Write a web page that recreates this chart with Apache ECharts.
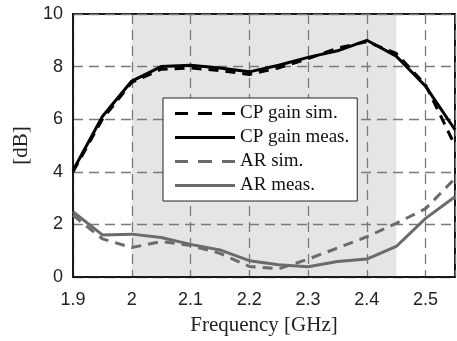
<!DOCTYPE html>
<html>
<head>
<meta charset="utf-8">
<script src="https://cdn.jsdelivr.net/npm/echarts@6/dist/echarts.min.js"></script>
<style>
  html, body { margin: 0; padding: 0; background: #fff; }
  #chart { width: 457px; height: 341px; }
</style>
</head>
<body>
<div id="chart"></div>
<script>
// Frequency samples (GHz)
const freq = [1.9, 1.95, 2.0, 2.05, 2.1, 2.15, 2.2, 2.25, 2.3, 2.35, 2.4, 2.45, 2.5, 2.55];
// CP gain (dB)
const cpGainSim  = [4.0, 6.0, 7.4, 7.9, 7.95, 7.85, 7.7, 7.95, 8.3, 8.7, 8.95, 8.5, 7.3, 5.0];
const cpGainMeas = [4.05, 6.1, 7.45, 8.0, 8.05, 7.95, 7.8, 8.05, 8.35, 8.6, 9.0, 8.4, 7.25, 5.6];
// Axial ratio (dB)
const arSim  = [2.35, 1.45, 1.12, 1.35, 1.2, 0.9, 0.4, 0.31, 0.68, 1.1, 1.53, 2.04, 2.6, 3.75];
const arMeas = [2.48, 1.6, 1.63, 1.5, 1.24, 1.03, 0.62, 0.47, 0.39, 0.59, 0.68, 1.16, 2.23, 3.05];
// Operating band shown as a shaded span
const band = [2.0, 2.45];
const seriesNames = ['CP gain sim.', 'CP gain meas.', 'AR sim.', 'AR meas.'];

const pairs = (ys) => freq.map((f, i) => [f, ys[i]]);
const GREY = '#6b6b6b';
const SANS = '"Liberation Sans", Arial, sans-serif';
const SERIF = '"Liberation Serif", "Times New Roman", serif';

// legend keys: a dashed or a solid stroke
const DASHED_KEY = 'path://M0,0h13v3h-13z M23,0h14v3h-14z M47,0h13v3h-13z';
const SOLID_KEY = 'path://M0,0h60v3h-60z';

const lineSeries = (name, ys, color, type) => ({
  name, type: 'line', data: pairs(ys), symbol: 'none', showSymbol: false, z: 3,
  lineStyle: { color, width: 3, type },
  itemStyle: { color }
});

const gridLine = { show: true, lineStyle: { color: '#7a7a7a', width: 1.3, type: [10, 6] } };

const chart = echarts.init(document.getElementById('chart'), null, { renderer: 'canvas' });
chart.setOption({
  animation: false,
  backgroundColor: '#fff',
  grid: {
    left: 73, right: 2, top: 14, bottom: 62, z: 2,
    show: true, borderColor: '#1a1a1a', borderWidth: 2, backgroundColor: 'transparent'
  },
  xAxis: {
    type: 'value', min: 1.9, max: 2.55, interval: 0.1, z: 2,
    name: 'Frequency [GHz]', nameLocation: 'middle', nameGap: 38,
    nameTextStyle: { fontFamily: SERIF, fontSize: 21, color: '#222' },
    axisLine: { show: true, lineStyle: { color: '#1a1a1a', width: 2 } },
    axisTick: { show: false },
    axisLabel: {
      fontFamily: SANS, fontSize: 18, color: '#222', margin: 14,
      showMaxLabel: false,
      formatter: (v) => (v > 2.52 ? '' : String(Math.round(v * 10) / 10))
    },
    splitLine: gridLine
  },
  yAxis: {
    type: 'value', min: 0, max: 10, interval: 2, z: 2,
    name: '[dB]', nameLocation: 'middle', nameGap: 38,
    nameTextStyle: { fontFamily: SERIF, fontSize: 21, color: '#222' },
    axisLine: { show: true, lineStyle: { color: '#1a1a1a', width: 2 } },
    axisTick: { show: false },
    axisLabel: { fontFamily: SANS, fontSize: 18, color: '#222', margin: 10 },
    splitLine: gridLine
  },
  legend: {
    orient: 'vertical', left: 163, top: 98,
    data: [
      { name: seriesNames[0], icon: DASHED_KEY, itemStyle: { color: '#000' } },
      { name: seriesNames[1], icon: SOLID_KEY, itemStyle: { color: '#000' } },
      { name: seriesNames[2], icon: DASHED_KEY, itemStyle: { color: GREY } },
      { name: seriesNames[3], icon: SOLID_KEY, itemStyle: { color: GREY } }
    ],
    backgroundColor: '#fff', borderColor: '#222', borderWidth: 1,
    padding: [6, 8, 6, 12], itemGap: 5, itemWidth: 60, itemHeight: 3.5, itemTextGap: 6,
    textStyle: { fontFamily: SERIF, fontSize: 19, color: '#111' }
  },
  series: [
    {
      // shaded band, drawn beneath the grid lines
      type: 'line', data: [], z: 1, silent: true,
      markArea: {
        silent: true, z: 1,
        itemStyle: { color: '#e5e5e5' },
        data: [[{ xAxis: band[0] }, { xAxis: band[1] }]]
      }
    },
    lineSeries(seriesNames[0], cpGainSim, '#000', [10, 7]),
    lineSeries(seriesNames[1], cpGainMeas, '#000', 'solid'),
    lineSeries(seriesNames[2], arSim, GREY, [10, 7]),
    lineSeries(seriesNames[3], arMeas, GREY, 'solid')
  ]
});
</script>
</body>
</html>
